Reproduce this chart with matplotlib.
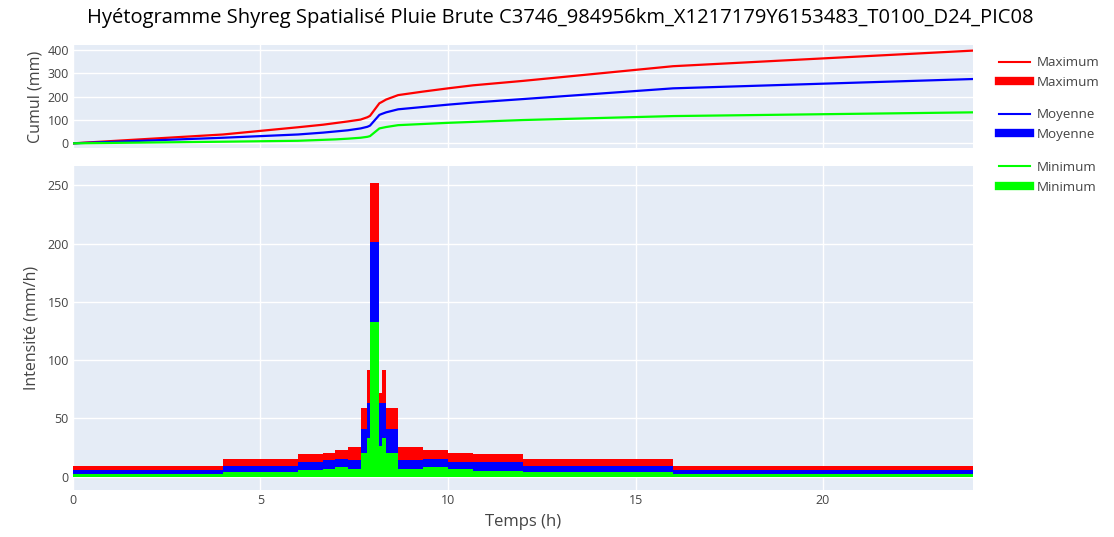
import matplotlib
matplotlib.use("Agg")
import matplotlib.pyplot as plt
from matplotlib.lines import Line2D
import numpy as np

# step edges of the hyetogram (h)
time_edges = [0, 4, 6, 6.67, 7, 7.33, 7.67, 7.85, 7.92, 8.17, 8.23, 8.35,
              8.67, 9.33, 10, 10.67, 12, 16, 24]

# intensities (mm/h) for each step
int_max = [9.4, 15.2, 19.7, 20.3, 22.9, 25.4, 59.2, 91.5, 251.5, 72, 91.5,
           59.2, 25.2, 22.6, 20, 19.4, 14.9, 9.4]
int_moy = [5.7, 9.4, 12.6, 14.3, 15.2, 14.6, 40.6, 63.5, 201.5, 63, 63.5,
           40.6, 14.3, 15.2, 12.9, 12.3, 9.4, 5.7]
int_min = [2.0, 3.7, 5.7, 6.6, 8.0, 6.3, 20, 32.9, 133, 26, 32.9,
           20, 6.3, 8.0, 6.6, 5.1, 3.7, 2.0]

# cumulative rainfall (mm) at the step edges
cum_max = [0, 38, 69, 80, 87, 94, 102, 112, 118, 172, 177, 188, 207, 222,
           236, 249, 268, 331, 398]
cum_moy = [0, 24, 38, 46, 51, 56, 64, 71, 76, 122, 126, 133, 146, 156,
           166, 175, 190, 236, 276]
cum_min = [0, 7, 11, 15, 17, 20, 24, 28, 31, 64, 66, 70, 78, 83,
           88, 92, 100, 117, 133]

title = "Hyétogramme Shyreg Spatialisé Pluie Brute C3746_984956km_X1217179Y6153483_T0100_D24_PIC08"

plt.rcParams["font.family"] = ["Open Sans", "DejaVu Sans"]
bg = "#E5ECF6"
txt = "#444444"

fig = plt.figure(figsize=(11.14, 5.37), dpi=100)
ax_top = fig.add_axes([0.0655, 0.7244, 0.808, 0.1918])
ax_bot = fig.add_axes([0.0655, 0.0875, 0.808, 0.6034])

edges = np.array(time_edges)
widths = np.diff(edges)

series = [("Maximum", "#FF0000", cum_max, int_max),
          ("Moyenne", "#0000FF", cum_moy, int_moy),
          ("Minimum", "#00FF00", cum_min, int_min)]

for name, col, cum, inten in series:
    ax_top.plot(time_edges, cum, color=col, lw=1.6, zorder=3)
    ax_bot.bar(edges[:-1], inten, width=widths, align="edge", color=col,
               linewidth=0, zorder=3)

for ax in (ax_top, ax_bot):
    ax.set_facecolor(bg)
    ax.set_xlim(0, 24)
    ax.set_xticks([0, 5, 10, 15, 20])
    ax.grid(True, color="white", lw=1, zorder=0)
    ax.set_axisbelow(True)
    for s in ax.spines.values():
        s.set_visible(False)
    ax.tick_params(length=0, labelsize=9, colors=txt, pad=3)

ax_top.set_ylim(-20, 422)
ax_top.set_yticks([0, 100, 200, 300, 400])
ax_top.tick_params(axis="x", labelbottom=False)
ax_top.set_ylabel("Cumul (mm)", fontsize=11.5, color=txt, labelpad=3)

ax_bot.set_ylim(-11.4, 266.5)
ax_bot.set_yticks([0, 50, 100, 150, 200, 250])
ax_bot.set_ylabel("Intensité (mm/h)", fontsize=11.5, color=txt, labelpad=6)
ax_bot.set_xlabel("Temps (h)", fontsize=12, color=txt, labelpad=5)

fig.text(0.503, 0.966, title, ha="center", va="center", fontsize=14.5,
         color="black")

# legend: one group per series, line entry then bar entry
group_y = [0.905, 0.808, 0.71]
for (name, col, _, _), gy in zip(series, group_y):
    handles = [Line2D([], [], color=col, lw=1.5),
               Line2D([], [], color=col, lw=6)]
    fig.legend(handles, [name, name], loc="upper left",
               bbox_to_anchor=(0.892, gy), frameon=False, fontsize=9.6,
               handlelength=2.3, handletextpad=0.5, labelspacing=0.5,
               labelcolor=txt, borderaxespad=0)

fig.savefig("out.png", dpi=100)
